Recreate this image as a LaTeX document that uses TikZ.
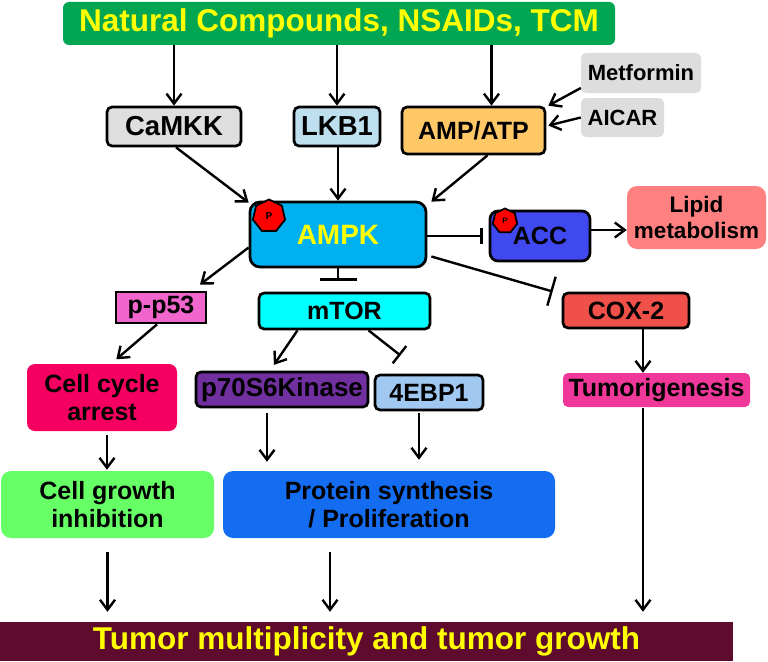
\documentclass[tikz,border=0pt]{standalone}
\usepackage{fontspec}
\setmainfont{Liberation Sans}
\usetikzlibrary{arrows.meta,shapes.geometric}

\definecolor{topgreen}{RGB}{0,166,81}
\definecolor{camkkgray}{RGB}{222,222,222}
\definecolor{lkbblue}{RGB}{190,224,238}
\definecolor{ampgold}{RGB}{255,200,102}
\definecolor{druggray}{RGB}{221,221,221}
\definecolor{ampkblue}{RGB}{0,176,240}
\definecolor{accblue}{RGB}{64,72,240}
\definecolor{lipidred}{RGB}{255,128,128}
\definecolor{p53pink}{RGB}{240,102,204}
\definecolor{mtorcyan}{RGB}{0,255,255}
\definecolor{coxred}{RGB}{240,80,74}
\definecolor{arrestred}{RGB}{245,0,96}
\definecolor{p70purple}{RGB}{112,48,160}
\definecolor{ebpblue}{RGB}{160,200,240}
\definecolor{tumpink}{RGB}{240,56,154}
\definecolor{growgreen}{RGB}{102,255,102}
\definecolor{protblue}{RGB}{20,108,240}
\definecolor{maroon}{RGB}{94,11,46}
\definecolor{yell}{RGB}{255,255,0}

\tikzset{
  box/.style={draw=black, line width=2.7pt, rounded corners=5pt, inner sep=0pt,
    font=\bfseries\fontsize{25}{28}\selectfont},
  flat/.style={rounded corners=8pt, inner sep=0pt, align=center,
    font=\bfseries\fontsize{25}{28}\selectfont},
  act/.style={-{Straight Barb[length=10pt,width=15pt]}, line width=2.4pt},
  inh/.style={-{Bar[width=#1]}, line width=2.4pt},
  inh/.default=16pt,
  phos/.style={regular polygon, regular polygon sides=7, draw=black, line width=1.8pt,
    fill=red, inner sep=0pt, font=\bfseries\fontsize{10}{10}\selectfont}
}

\begin{document}
\begin{tikzpicture}[x=1pt,y=-1pt]
  \useasboundingbox (0,0) rectangle (768,661);

  % sources
  \node[flat, fill=topgreen, rounded corners=6pt, minimum width=552pt, minimum height=43pt,
    text=yell, font=\bfseries\fontsize{31.5}{34}\selectfont] (top) at (339,23.5) {Natural Compounds, NSAIDs, TCM};
  \node[box, fill=camkkgray, minimum width=134pt, minimum height=39pt,
    font=\bfseries\fontsize{27.5}{30}\selectfont] (camkk) at (174,126.5) {CaMKK};
  \node[box, fill=lkbblue, minimum width=86pt, minimum height=39pt,
    font=\bfseries\fontsize{27.5}{30}\selectfont] (lkb) at (337,126.5) {LKB1};
  \node[box, fill=ampgold, minimum width=143pt, minimum height=47pt] (ampatp) at (473.5,130.5) {AMP/ATP};
  \node[flat, fill=druggray, rounded corners=5pt, minimum width=120pt, minimum height=40pt,
    font=\bfseries\fontsize{22}{24}\selectfont] (metformin) at (641,73) {Metformin};
  \node[flat, fill=druggray, rounded corners=5pt, minimum width=83pt, minimum height=39pt,
    font=\bfseries\fontsize{22}{24}\selectfont] (aicar) at (622.5,117.5) {AICAR};

  % AMPK and targets
  \node[box, fill=ampkblue, rounded corners=10pt, minimum width=176pt, minimum height=65pt,
    text=yell, font=\bfseries\fontsize{28}{30}\selectfont] (ampk) at (338,234.5) {AMPK};
  \node[box, fill=accblue, rounded corners=8pt, minimum width=100pt, minimum height=50pt] (acc) at (540,236) {ACC};
  \node[flat, fill=lipidred, rounded corners=10pt, minimum width=139pt, minimum height=63pt,
    font=\bfseries\fontsize{22.5}{26}\selectfont] (lipid) at (696.5,217.5) {Lipid\\metabolism};
  \node[phos, minimum size=33pt] (ampkp) at (269,216) {P};
  \node[phos, minimum size=25pt, font=\bfseries\fontsize{8}{8}\selectfont] (accp) at (505,221) {P};

  \node[box, fill=p53pink, rounded corners=0pt, minimum width=90pt, minimum height=31pt] (pp53) at (161,307.5) {p-p53};
  \node[box, fill=mtorcyan, minimum width=171pt, minimum height=36pt] (mtor) at (344.5,311) {mTOR};
  \node[box, fill=coxred, minimum width=126pt, minimum height=35pt] (cox) at (626,310.5) {COX-2};

  \node[flat, fill=arrestred, minimum width=150pt, minimum height=67pt] (arrest) at (102,397.5) {Cell cycle\\arrest};
  \node[box, fill=p70purple, minimum width=172pt, minimum height=35pt,
    font=\bfseries\fontsize{26}{28}\selectfont] (p70) at (282,389.5) {p70S6Kinase};
  \node[box, fill=ebpblue, minimum width=108pt, minimum height=35pt] (ebp) at (429,392.5) {4EBP1};
  \node[flat, fill=tumpink, rounded corners=5pt, minimum width=187pt, minimum height=34pt] (tumorig) at (656.5,390) {Tumorigenesis};

  \node[flat, fill=growgreen, rounded corners=10pt, minimum width=213pt, minimum height=67pt] (growth) at (107.5,504.5) {Cell growth\\inhibition};
  \node[flat, fill=protblue, rounded corners=10pt, minimum width=332pt, minimum height=67pt] (protein) at (389,504.5) {Protein synthesis\\/ Proliferation};

  \node[flat, fill=maroon, rounded corners=0pt, minimum width=733pt, minimum height=39pt,
    text=yell, font=\bfseries\fontsize{31.5}{34}\selectfont] (tumor) at (366.5,641.5) {Tumor multiplicity and tumor growth};

  % upstream arrows
  \draw[act] (top.south -| camkk.north) -- (camkk.north);
  \draw[act] (top.south -| lkb.north) -- (lkb.north);
  \draw[act] ([xshift=18pt]ampatp.north |- top.south) -- ([xshift=18pt]ampatp.north);
  \draw[act] ([yshift=-15pt]metformin.west) -- ([xshift=2pt]ampatp.north east);
  \draw[act] (aicar.west) -- ([xshift=2pt,yshift=5pt]ampatp.east);
  \draw[act] ([xshift=2pt]camkk.south) -- ([yshift=-2pt]ampk.north west);
  \draw[act] (lkb.south -| ampk.north) -- (ampk.north);
  \draw[act] ([xshift=14pt]ampatp.south) -- ([xshift=4pt,yshift=-1pt]ampk.north east);

  % AMPK outputs
  \draw[inh, shorten >=6pt] (ampk.east |- acc.west) -- (acc.west);
  \draw[act] ([yshift=6pt]acc.east) -- ([yshift=6pt]acc.east -| lipid.west);
  \draw[act, shorten >=10pt] ([yshift=-13pt]ampk.west) -- ([xshift=31pt]pp53.north);
  \draw[inh=37pt, shorten >=11pt] (ampk.south) -- (ampk.south |- mtor.north);
  \draw[inh=30pt] ([xshift=4pt,yshift=-22pt]ampk.east) -- ([xshift=-9pt,yshift=19pt]cox.west);

  % downstream arrows
  \draw[act, shorten >=7pt] ([xshift=-4pt]pp53.south) -- ([xshift=9pt]arrest.north);
  \draw[act, shorten >=7pt] ([xshift=-47pt]mtor.south) -- ([xshift=-12pt]p70.north);
  \draw[inh=22pt, shorten >=2pt] ([xshift=24pt]mtor.south) -- ([xshift=-27pt,yshift=17pt]ebp.north);
  \draw[act] ([xshift=17pt]cox.south) -- ([xshift=17pt]cox.south |- tumorig.north);
  \draw[act, shorten <=4pt, shorten >=1pt] ([xshift=5pt]arrest.south) -- ([xshift=5pt]arrest.south |- growth.north);
  \draw[act, shorten <=5pt, shorten >=9pt] ([xshift=-15pt]p70.south) -- ([xshift=-15pt]p70.south |- protein.north);
  \draw[act, shorten <=2pt, shorten >=11pt] ([xshift=-10pt]ebp.south) -- ([xshift=-10pt]ebp.south |- protein.north);
  \draw[act, shorten <=1pt, shorten >=10pt] ([xshift=-13.5pt]tumorig.south) -- ([xshift=-13.5pt]tumorig.south |- tumor.north);
  \draw[act, shorten <=14pt, shorten >=10pt] (growth.south) -- (growth.south |- tumor.north);
  \draw[act, shorten <=14pt, shorten >=10pt] ([xshift=-59pt]protein.south) -- ([xshift=-59pt]protein.south |- tumor.north);
\end{tikzpicture}
\end{document}
